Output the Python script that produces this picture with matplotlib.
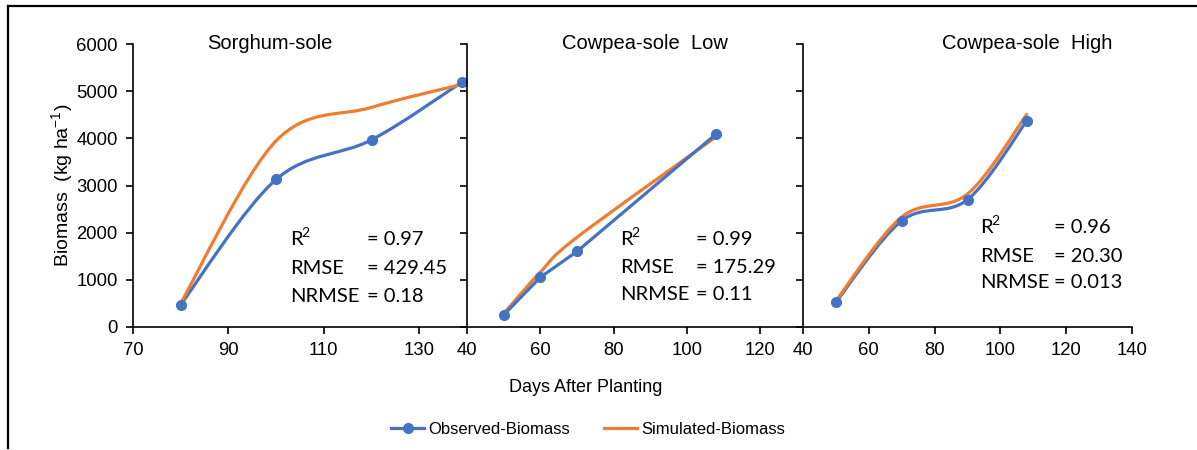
import numpy as np
import matplotlib
matplotlib.use('Agg')
from matplotlib import pyplot as plt
from matplotlib.path import Path
from matplotlib.patches import PathPatch
from matplotlib.lines import Line2D

plt.rcParams['font.family'] = ['Liberation Sans', 'DejaVu Sans']
plt.rcParams['mathtext.fontset'] = 'custom'
plt.rcParams['mathtext.rm'] = 'Liberation Sans'
plt.rcParams['mathtext.it'] = 'Liberation Sans'

BLUE = '#4472C4'
ORANGE = '#ED7D31'
STATFONT = ['Lato', 'DejaVu Sans']

# data
panel_titles = ['Sorghum-sole', 'Cowpea-sole  Low', 'Cowpea-sole  High']

sorghum_days = [80, 100, 120, 139]
sorghum_obs = [470, 3130, 3970, 5200]
sorghum_sim = [500, 3950, 4660, 5150]

cow_low_days = [50, 60, 70, 108]
cow_low_obs = [250, 1050, 1600, 4100]
cow_low_sim = [280, 1160, 1900, 4040]

cow_high_days = [50, 70, 90, 108]
cow_high_obs = [520, 2250, 2700, 4370]
cow_high_sim = [550, 2330, 2820, 4510]

stats_r2 = ['0.97', '0.99', '0.96']
stats_rmse = ['429.45', '175.29', '20.30']
stats_nrmse = ['0.18', '0.11', '0.013']

W, H = 1197, 450


def smooth_path(x, y):
    # excel style smoothed line: cubic bezier through the points
    x = np.asarray(x, float)
    y = np.asarray(y, float)
    px = np.concatenate([[x[0]], x, [x[-1]]])
    py = np.concatenate([[y[0]], y, [y[-1]]])
    verts = [(x[0], y[0])]
    codes = [Path.MOVETO]
    for i in range(1, len(px) - 2):
        c1 = (px[i] + (px[i + 1] - px[i - 1]) / 6, py[i] + (py[i + 1] - py[i - 1]) / 6)
        c2 = (px[i + 1] - (px[i + 2] - px[i]) / 6, py[i + 1] - (py[i + 2] - py[i]) / 6)
        verts += [c1, c2, (px[i + 1], py[i + 1])]
        codes += [Path.CURVE4] * 3
    return Path(verts, codes)


def add_curve(ax, x, y, color):
    ax.add_patch(PathPatch(smooth_path(x, y), fill=False, edgecolor=color,
                           lw=2.3, capstyle='round', joinstyle='round'))


fig = plt.figure(figsize=(W / 100, H / 100), dpi=100)

# axes in pixel coords: left, right
ybot, ytop = 326.7, 44.3
boxes = [(133, 467), (467, 803), (803, 1132)]
xlims = [(70, 140), (40, 131.6), (40, 140)]
xticks = [[70, 90, 110, 130], [40, 60, 80, 100, 120], [40, 60, 80, 100, 120, 140]]

axes = []
for i, (l, r) in enumerate(boxes):
    ax = fig.add_axes([l / W, 1 - ybot / H, (r - l) / W, (ybot - ytop) / H])
    ax.set_xlim(*xlims[i])
    ax.set_ylim(0, 6000)
    ax.set_xticks(xticks[i])
    ax.set_yticks(range(0, 6001, 1000))
    for s in ['top', 'right']:
        ax.spines[s].set_visible(False)
    for s in ['left', 'bottom']:
        ax.spines[s].set_linewidth(1.2)
    ax.tick_params(direction='out', length=5, width=1.2, labelsize=13.3, pad=6)
    if i > 0:
        ax.tick_params(axis='y', labelleft=False)
    ax.patch.set_alpha(0)
    axes.append(ax)

series = [(sorghum_days, sorghum_obs, sorghum_sim),
          (cow_low_days, cow_low_obs, cow_low_sim),
          (cow_high_days, cow_high_obs, cow_high_sim)]

for i, (d, obs, sim) in enumerate(series):
    ax = axes[i]
    if i == 1:
        ax.plot(d, obs, color=BLUE, lw=2.3, solid_joinstyle='round')
    else:
        add_curve(ax, d, obs, BLUE)
    ax.plot(d, obs, 'o', color=BLUE, ms=7, clip_on=False, zorder=3)
    add_curve(ax, d, sim, ORANGE)

axes[0].set_ylabel(r'Biomass  (kg ha$^{\mathregular{-1}}$)', fontsize=14,
                   labelpad=1)

# panel titles
title_x = [270, 645, 1027]
for t, x in zip(panel_titles, title_x):
    fig.text(x / W, 1 - 49 / H, t, ha='center', va='baseline', fontsize=14.5)

# statistics text (pixel positions of label column, value column, baselines)
stat_pos = [(290, 367, [245, 274, 302]),
            (620, 696, [245, 273, 300]),
            (980, 1054, [233, 261.5, 288.5])]
for i, (xl, xv, ys) in enumerate(stat_pos):
    rows = [('R', '= ' + stats_r2[i]), ('RMSE', '= ' + stats_rmse[i]),
            ('NRMSE', '= ' + stats_nrmse[i])]
    for (lab, val), yb in zip(rows, ys):
        fig.text(xl / W, 1 - yb / H, lab, ha='left', va='baseline',
                 fontsize=14.5, family=STATFONT)
        fig.text(xv / W, 1 - yb / H, val, ha='left', va='baseline',
                 fontsize=14.5, family=STATFONT)
    # superscript 2 of R2
    fig.text((xl + 11) / W, 1 - (ys[0] - 8) / H, '2', ha='left', va='baseline',
             fontsize=10, family=STATFONT)

fig.text(586 / W, 1 - 392 / H, 'Days After Planting', ha='center',
         va='baseline', fontsize=13)

handles = [Line2D([], [], color=BLUE, lw=2.3, marker='o', ms=7),
           Line2D([], [], color=ORANGE, lw=2.3)]
fig.legend(handles, ['Observed-Biomass', 'Simulated-Biomass'], ncol=2,
           loc='center', bbox_to_anchor=(588 / W, 1 - 429 / H), frameon=False,
           fontsize=12, handlelength=2.0, handletextpad=0.25, columnspacing=2.0)

# outer frame (left and top edges)
fig.add_artist(Line2D([8 / W, 8 / W], [1 - 448 / H, 1 - 6 / H], color='black', lw=1.6))
fig.add_artist(Line2D([8 / W, 1], [1 - 6 / H, 1 - 6 / H], color='black', lw=1.6))

fig.savefig('out.png', dpi=100)
